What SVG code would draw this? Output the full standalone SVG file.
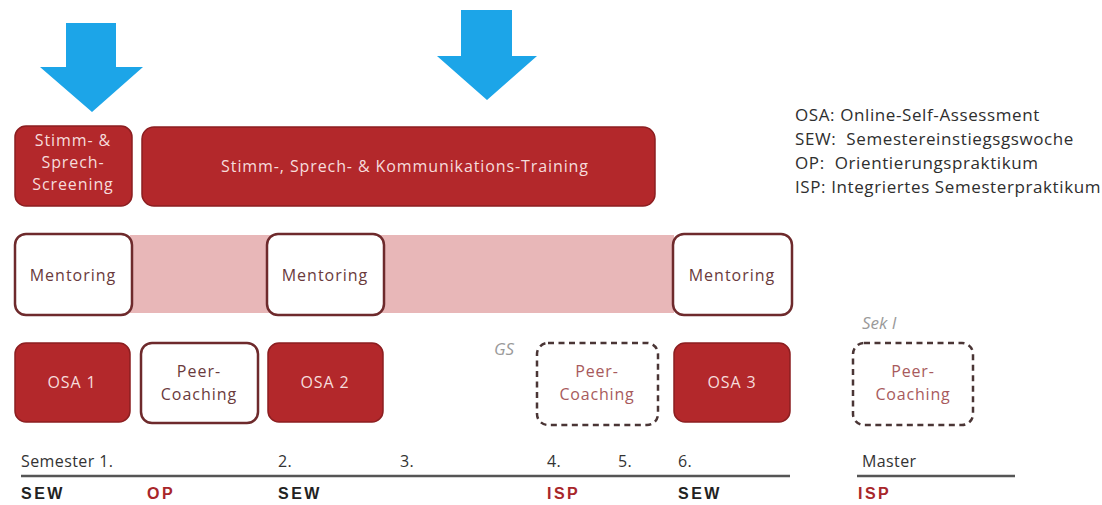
<svg xmlns="http://www.w3.org/2000/svg" width="1102" height="505" viewBox="0 0 1102 505">
<style>
text{font-family:"Open Sans","Liberation Sans",sans-serif}
.red{fill:#b3282b;stroke:#8c1e20;stroke-width:1.5}
.wt{fill:#ffffff;stroke:#6e2a2c;stroke-width:2.5}
.dash{fill:#ffffff;stroke:#4a3535;stroke-width:2.5;stroke-dasharray:6 4.5}
.tw{fill:#f6dcdc;font-size:16px;letter-spacing:0.9px;text-anchor:middle}
.tm{fill:#6a3a3c;font-size:16px;letter-spacing:1px;text-anchor:middle}
.tp{fill:#a85a5c;font-size:16px;letter-spacing:0.8px;text-anchor:middle}
.leg{fill:#2e2e2e;font-size:17px;letter-spacing:0.6px}
.sem{fill:#333;font-size:16px;letter-spacing:0.4px}
.bk{fill:#222;font-family:"Liberation Sans",sans-serif;font-size:16px;font-weight:bold;letter-spacing:2.5px}
.br{fill:#a8262a;font-family:"Liberation Sans",sans-serif;font-size:16px;font-weight:bold;letter-spacing:2.5px}
.it{fill:#9a9a9a;font-size:17px;font-style:italic}
.arrow{fill:#1ca5e8}
.axis{stroke:#555;stroke-width:2.5}
</style>
<g id="arrows">
<polygon class="arrow" points="66,23 116,23 116,67 143,67 92,112 40,67 66,67"/>
<polygon class="arrow" points="461,10 512,10 512,56 537,56 487,100 437,56 461,56"/>
</g>
<g id="screening">
<rect class="red" x="15" y="126" width="117" height="80" rx="11"/>
<text class="tw"><tspan x="73" y="146">Stimm- &amp;</tspan><tspan x="73" y="168">Sprech-</tspan><tspan x="73" y="190">Screening</tspan></text>
</g>
<g id="training">
<rect class="red" x="142" y="127" width="513" height="79" rx="12"/>
<text class="tw" x="405" y="172">Stimm-, Sprech- &amp; Kommunikations-Training</text>
</g>
<g id="mentoring-band">
<rect x="130" y="235" width="544" height="78" fill="#e8b7b8"/>
</g>
<g id="mentoring1">
<rect class="wt" x="15" y="234" width="117" height="81" rx="11"/>
<text class="tm" x="73" y="281">Mentoring</text>
</g>
<g id="mentoring2">
<rect class="wt" x="267" y="234" width="117" height="81" rx="11"/>
<text class="tm" x="325" y="281">Mentoring</text>
</g>
<g id="mentoring3">
<rect class="wt" x="673" y="234" width="119" height="81" rx="11"/>
<text class="tm" x="732" y="281">Mentoring</text>
</g>
<g id="osa1">
<rect class="red" x="15" y="343" width="115" height="79" rx="11"/>
<text class="tw" x="72" y="388">OSA 1</text>
</g>
<g id="peer1">
<rect class="wt" x="141" y="343" width="117" height="80" rx="11"/>
<text class="tm"><tspan x="199" y="377">Peer-</tspan><tspan x="199" y="400">Coaching</tspan></text>
</g>
<g id="osa2">
<rect class="red" x="268" y="343" width="115" height="79" rx="11"/>
<text class="tw" x="325" y="388">OSA 2</text>
</g>
<g id="peer2">
<text class="it" x="494" y="355">GS</text>
<rect class="dash" x="537" y="343" width="121" height="82" rx="11"/>
<text class="tp"><tspan x="597" y="377">Peer-</tspan><tspan x="597" y="400">Coaching</tspan></text>
</g>
<g id="osa3">
<rect class="red" x="674" y="343" width="116" height="79" rx="11"/>
<text class="tw" x="732" y="388">OSA 3</text>
</g>
<g id="peer3">
<text class="it" x="862" y="329">Sek I</text>
<rect class="dash" x="853" y="343" width="120" height="82" rx="11"/>
<text class="tp"><tspan x="913" y="377">Peer-</tspan><tspan x="913" y="400">Coaching</tspan></text>
</g>
<g id="legend">
<text class="leg" x="795" y="121">OSA: Online-Self-Assessment</text>
<text class="leg" x="795" y="145" xml:space="preserve">SEW:  Semestereinstiegsgswoche</text>
<text class="leg" x="795" y="169" xml:space="preserve">OP:  Orientierungspraktikum</text>
<text class="leg" x="795" y="193">ISP: Integriertes Semesterpraktikum</text>
</g>
<g id="timeline">
<line class="axis" x1="21" y1="476" x2="790" y2="476"/>
<line class="axis" x1="857" y1="476" x2="1015" y2="476"/>
<text class="sem" x="21" y="467">Semester 1.</text>
<text class="sem" x="278" y="467">2.</text>
<text class="sem" x="400" y="467">3.</text>
<text class="sem" x="547" y="467">4.</text>
<text class="sem" x="618" y="467">5.</text>
<text class="sem" x="678" y="467">6.</text>
<text class="sem" x="862" y="467">Master</text>
<text class="bk" x="21" y="499">SEW</text>
<text class="br" x="147" y="499">OP</text>
<text class="bk" x="278" y="499">SEW</text>
<text class="br" x="547" y="499">ISP</text>
<text class="bk" x="678" y="499">SEW</text>
<text class="br" x="858" y="499">ISP</text>
</g>
</svg>
